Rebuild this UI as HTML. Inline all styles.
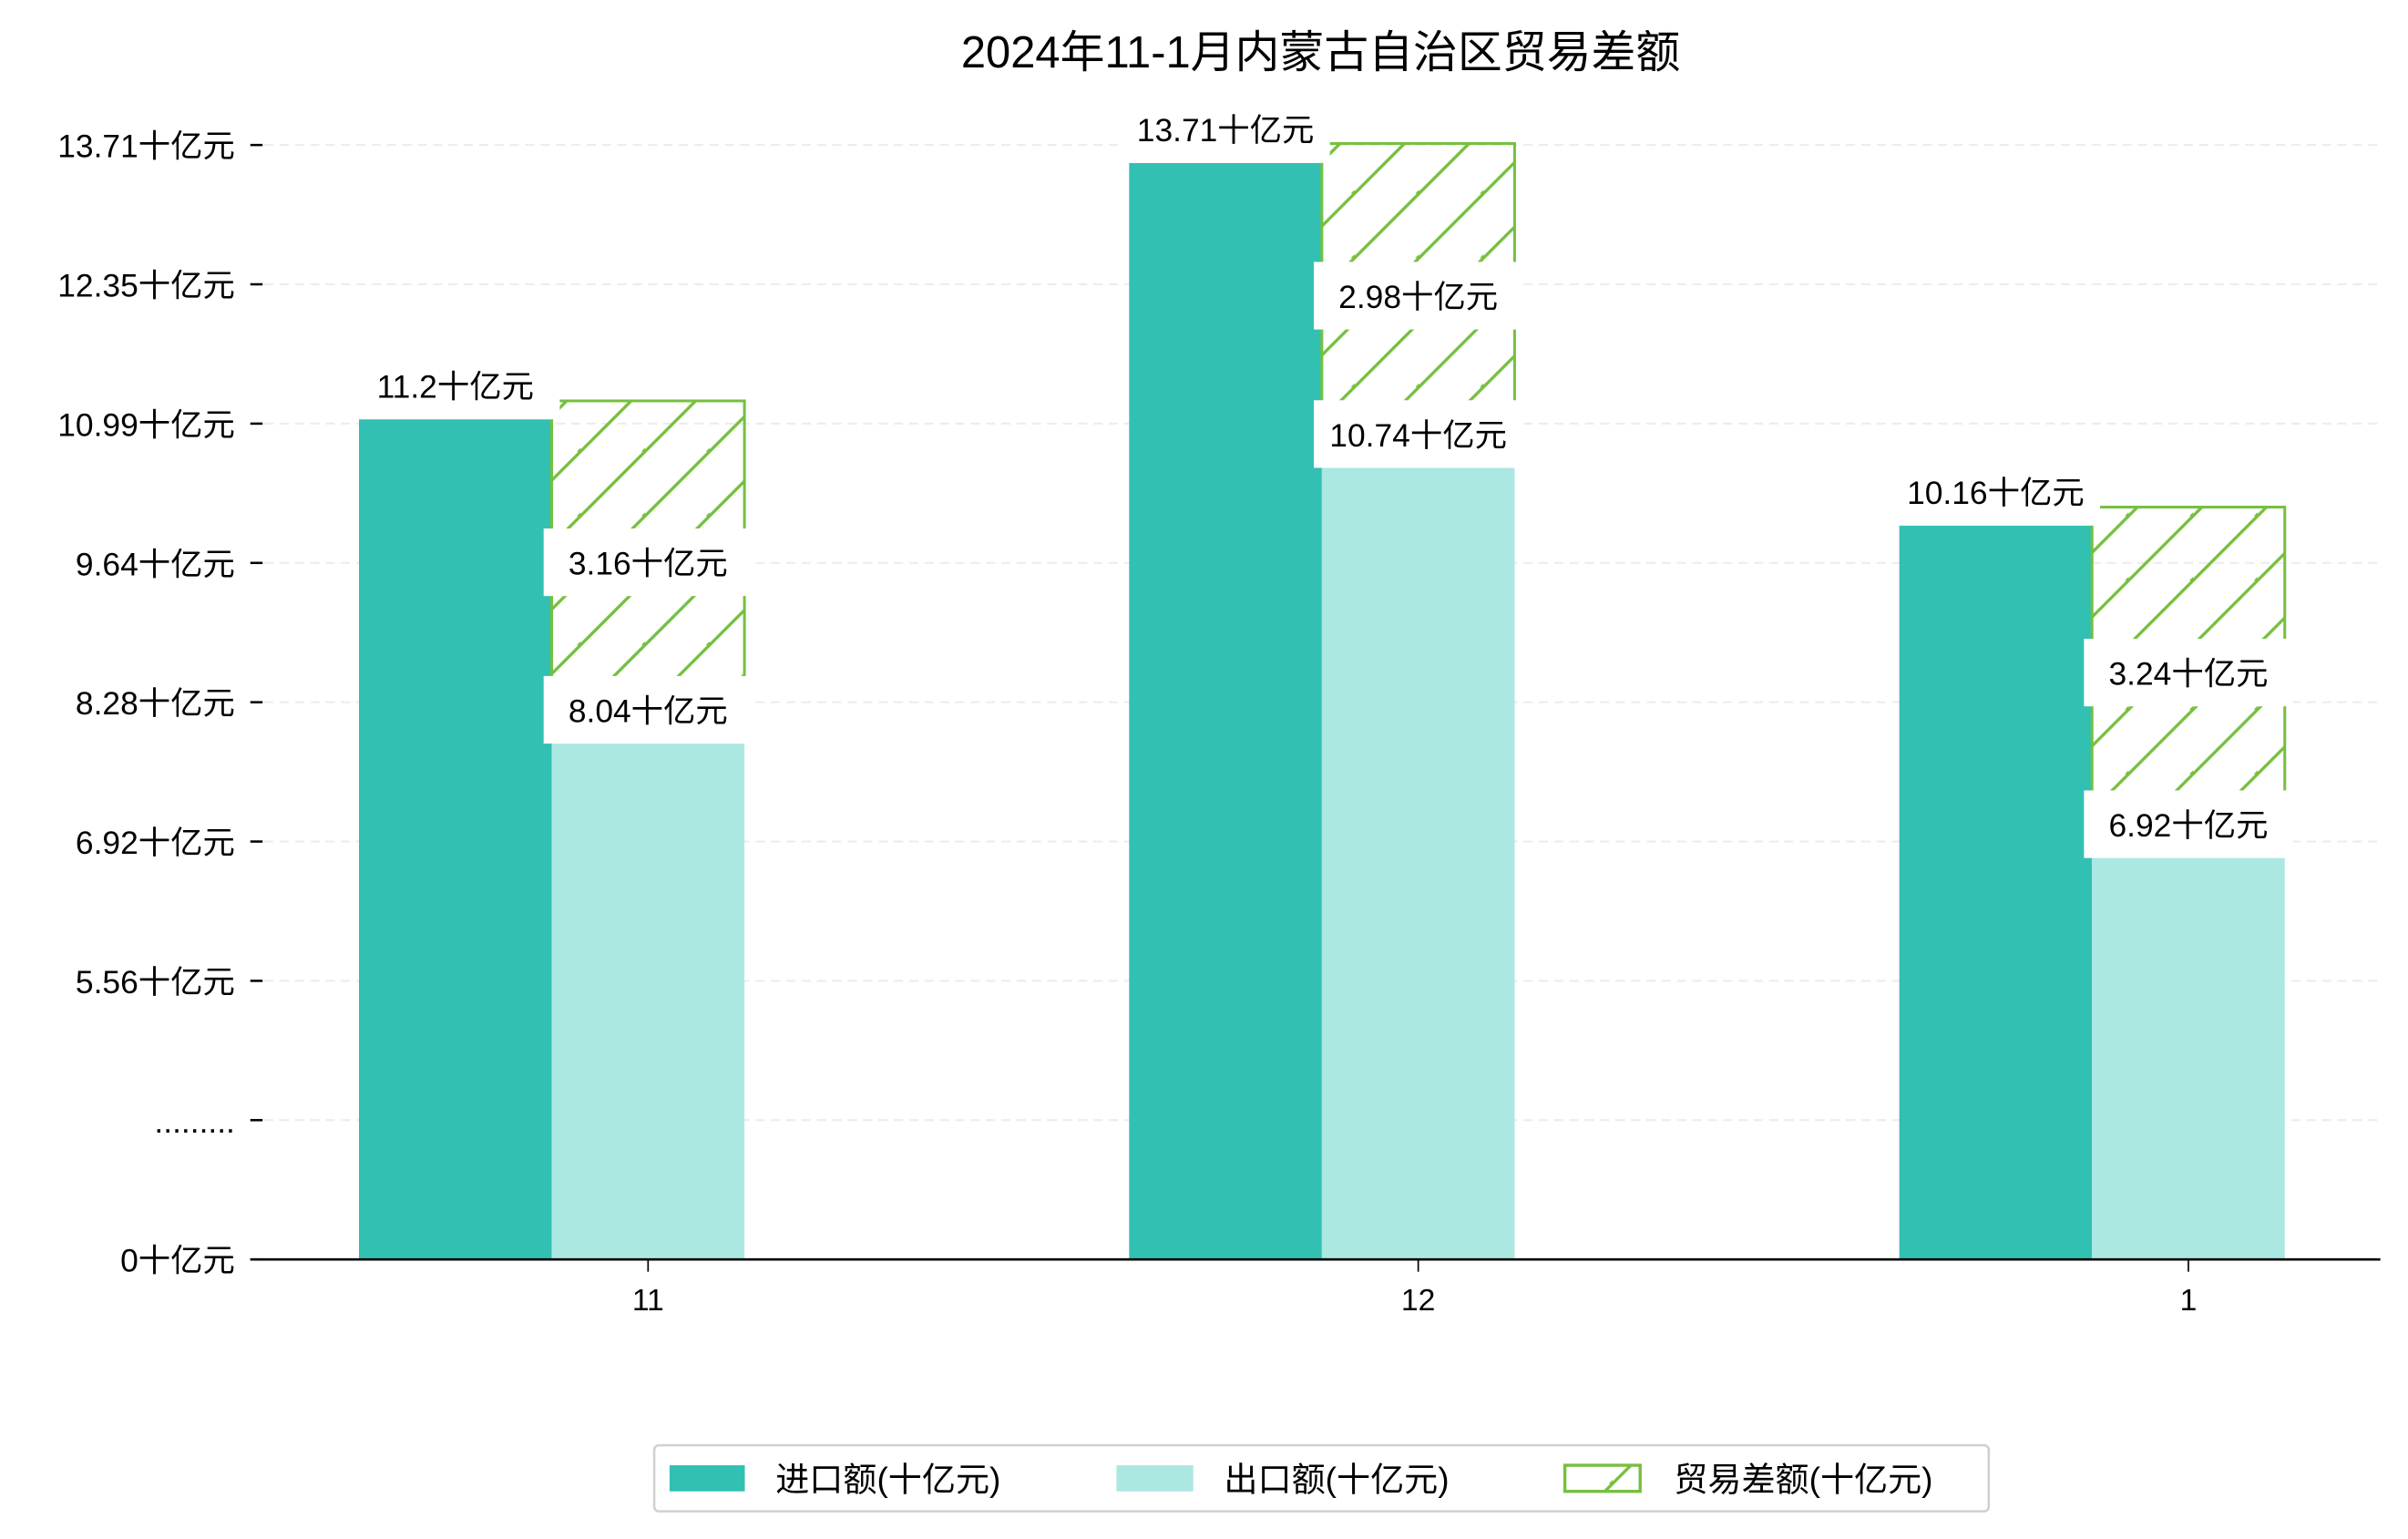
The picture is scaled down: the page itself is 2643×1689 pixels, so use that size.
<!DOCTYPE html>
<html><head><meta charset="utf-8"><style>
html,body{margin:0;padding:0;background:#fff}
svg{display:block}
text{font-family:"Liberation Sans","Noto Sans CJK SC",sans-serif;fill:#000}
</style></head><body>
<svg id="chart" width="2643" height="1689" viewBox="0 0 1568 1002" xmlns="http://www.w3.org/2000/svg">
<defs>
<pattern id="hatch" patternUnits="userSpaceOnUse" width="42" height="42">
<path d="M-10,52 L52,-10 M-52,52 L52,-52 M10,73 L73,10" stroke="#76bf3f" stroke-width="2"/>
</pattern>
</defs>
<text x="860" y="44" text-anchor="middle" font-size="29">2024年11-1月内蒙古自治区贸易差额</text>
<g id="grid"></g>
<g id="bars"></g>
<g id="labels"></g>
<line x1="163" y1="820" x2="1550" y2="820" stroke="#000" stroke-width="1.6"/>
<g>
<rect x="426" y="941" width="869" height="43" rx="3" fill="#fff" stroke="#d0d0d0" stroke-width="1.5"/>
<rect x="436" y="954" width="49" height="17" fill="#32c0b3"/>
<text x="505" y="971" font-size="22">进口额(十亿元)</text>
<rect x="727" y="954" width="50" height="17" fill="#abe8e2"/>
<text x="797" y="971" font-size="22">出口额(十亿元)</text>
<rect x="1019" y="954" width="49" height="17" fill="url(#hatch)" stroke="#76bf3f" stroke-width="2"/>
<text x="1090" y="971" font-size="22">贸易差额(十亿元)</text>
</g>
</svg>
<script>
const categories = ['11', '12', '1'];
const imports = [11.2, 13.71, 10.16];
const exportsV = [8.04, 10.74, 6.92];
const balance = [3.16, 2.98, 3.24];
const yTickLabels = ['0十亿元', '.........', '5.56十亿元', '6.92十亿元', '8.28十亿元', '9.64十亿元', '10.99十亿元', '12.35十亿元', '13.71十亿元'];

const NS = 'http://www.w3.org/2000/svg';
const K = 66.5, Y0 = 1005.8, BASE = 820;
function yv(v){ return Y0 - v*K; }
function xc(i){ return 422 + i*501.5; }
function tickY(i){ return 820 - i*90.7; }
const BW = 125.5;
function mk(tag, attrs, parent){ const e=document.createElementNS(NS,tag); for(const k in attrs) e.setAttribute(k,attrs[k]); parent.appendChild(e); return e; }

const grid=document.getElementById('grid');
yTickLabels.forEach((t,i)=>{
  const y=tickY(i);
  if(i>0){ const g=mk('line',{x1:172,x2:1550,y1:y,y2:y,stroke:'#ececec','stroke-width':1.2,'stroke-dasharray':'6,4'},grid);
    
     }
  const tk=mk('line',{x1:163,x2:171,y1:y,y2:y,stroke:'#000','stroke-width':1.5},grid);
  
  
  const tx=mk('text',{x:153,y:y+8,'text-anchor':'end','font-size':21},grid);
  tx.textContent=t;
  
  
});

const bars=document.getElementById('bars'), labels=document.getElementById('labels');
function label(text,cx,cy){
  const r=mk('rect',{x:cx-68,y:cy-22,width:136,height:44,fill:'#fff'},labels);
  
  
  const t=mk('text',{x:cx,y:cy+8,'text-anchor':'middle','font-size':21},labels);
  t.textContent=text;
  
  
}
categories.forEach((c,i)=>{
  const cx=xc(i);
  const ix=cx-1.5*BW, ex=cx-0.5*BW;
  const it=yv(imports[i])+12;
  const b1=mk('rect',{x:ix,y:it,width:BW,height:BASE-it,fill:'#32c0b3'},bars);
  
  
  const et=yv(exportsV[i])+13;
  const b2=mk('rect',{x:ex,y:et,width:BW,height:BASE-et,fill:'#abe8e2'},bars);
  
  
  const ht=yv(exportsV[i]+balance[i]), hb=yv(exportsV[i]);
  const b3=mk('rect',{x:ex,y:ht,width:BW,height:hb-ht,fill:'url(#hatch)',stroke:'#76bf3f','stroke-width':1.8},bars);
  
  
  const xt=mk('line',{x1:cx,x2:cx,y1:820,y2:828,stroke:'#000','stroke-width':1},bars);
  
  
  const xl=mk('text',{x:cx,y:853,'text-anchor':'middle','font-size':20},bars);
  xl.textContent=c;
  
  
  label(imports[i]+'十亿元', ix+BW/2, it-22);
  label(balance[i]+'十亿元', ex+BW/2, (ht+hb)/2);
  label(exportsV[i]+'十亿元', ex+BW/2, et-22);
});
</script>
</body></html>
